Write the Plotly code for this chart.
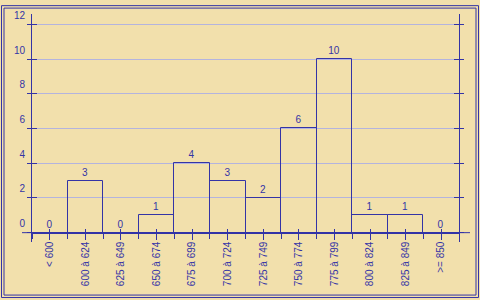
import plotly.graph_objects as go

categories = ["< 600", "600 à 624", "625 à 649", "650 à 674", "675 à 699", "700 à 724",
              "725 à 749", "750 à 774", "775 à 799", "800 à 824", "825 à 849", ">= 850"]
counts = [0, 3, 0, 1, 4, 3, 2, 6, 10, 1, 1, 0]
y_ticks = [0, 2, 4, 6, 8, 10, 12]

BLUE = "#3434A6"
GRID = "#B4B4DE"
BG = "#F2E0AC"
FONT = dict(family="Liberation Sans", size=10, color=BLUE)

W, H = 480, 300
ML, MR, MT, MB = 32, 21, 10, 58
PW, PH = W - ML - MR, H - MT - MB

xpos = list(range(len(categories)))
xmin, xmax = -0.5, len(categories) - 0.5
m = 53 / 3  # px per unit
ymax = (232.5 - MT) / m
ymin = ymax - PH / m
y0frac = (0 - ymin) / (ymax - ymin)

fig = go.Figure()
fig.add_trace(go.Bar(
    x=xpos, y=counts, width=1,
    marker=dict(color="rgba(0,0,0,0)", line=dict(color=BLUE, width=1)),
    text=[str(v) for v in counts], textposition="outside",
    textfont=FONT, cliponaxis=False, hoverinfo="skip",
))
fig.add_trace(go.Scatter(x=[0], y=[0], xaxis="x2", yaxis="y2", mode="markers",
                         marker=dict(opacity=0), hoverinfo="skip", showlegend=False))

fig.update_layout(
    width=W, height=H,
    margin=dict(l=ML, r=MR, t=MT, b=MB),
    paper_bgcolor=BG, plot_bgcolor=BG,
    showlegend=False, bargap=0,
    font=FONT,
    xaxis=dict(range=[xmin, xmax], tickmode="array", tickvals=xpos, ticktext=categories,
               tickangle=-90, ticks="outside", ticklen=6, tickcolor=BLUE,
               showgrid=False, zeroline=False, showline=True, linecolor=BLUE,
               anchor="free", position=y0frac, tickfont=FONT, ticklabelstandoff=-2,
               minor=dict(tick0=0.5, dtick=1, ticks="outside", ticklen=5, tickcolor=BLUE)),
    xaxis2=dict(range=[xmin, xmax], overlaying="x", tickmode="array", tickvals=xpos,
                ticks="inside", ticklen=4, tickcolor=BLUE, showticklabels=False,
                showgrid=False, zeroline=False, showline=False,
                anchor="free", position=y0frac),
    yaxis=dict(range=[ymin, ymax], tickmode="array", tickvals=y_ticks,
               ticks="outside", ticklen=4, tickcolor=BLUE, showline=True, linecolor=BLUE,
               mirror="ticks", showgrid=True, gridcolor=GRID, zeroline=False,
               tickfont=FONT, ticklabelshift=-9),
    yaxis2=dict(range=[ymin, ymax], overlaying="y", tickmode="array", tickvals=y_ticks,
                ticks="inside", ticklen=5, tickcolor=BLUE, showline=True, linecolor=BLUE,
                mirror="ticks", showgrid=False, zeroline=False, showticklabels=False),
)

def px2paper_x(px):
    return (px - ML) / PW

def px2paper_y(py):
    return (MT + PH - py) / PH

# x-axis line overhang past the vertical axes
fig.add_shape(type="line", xref="paper", yref="paper", x0=px2paper_x(22), x1=px2paper_x(470),
              y0=y0frac, y1=y0frac, line=dict(color=BLUE, width=1))
# double frame
for inset in (1.5, 4):
    fig.add_shape(type="rect", xref="paper", yref="paper",
                  x0=px2paper_x(inset), x1=px2paper_x(W - inset),
                  y0=px2paper_y(H - inset), y1=px2paper_y(inset),
                  line=dict(color=BLUE, width=1))

fig.write_html("out.html")
